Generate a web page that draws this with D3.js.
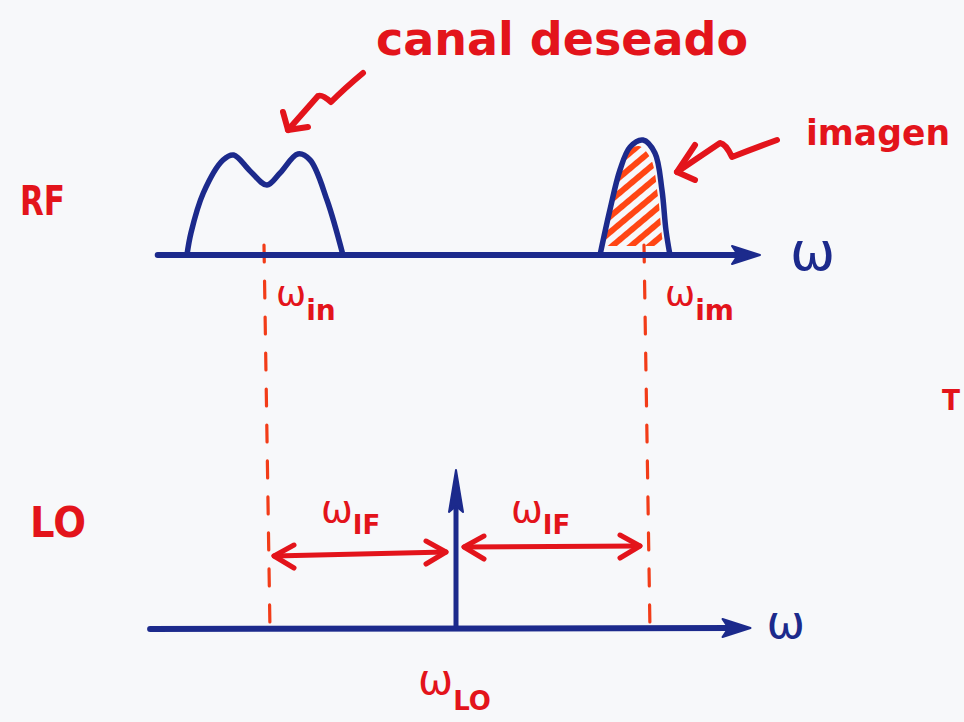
<!DOCTYPE html>
<html><head><meta charset="utf-8">
<script src="https://cdn.jsdelivr.net/npm/d3@7"></script>
<style>body{margin:0;background:#f7f8fa}svg{display:block}</style>
</head><body>
<svg id="c" width="964" height="722"></svg>
<script>
// ---- data ----
const markNames = ["in", "LO", "im"];
const markFreq = [-1, 0, 1];               // ω_in, ω_LO, ω_im  (units of ω_IF)
const desiredFreq = [-1.416,-1.395,-1.330,-1.226,-1.170,-1.084,-0.995,-0.926,-0.832,-0.768,-0.679,-0.595];
const desiredAmp  = [0, 0.22, 0.62, 0.95, 1.0, 0.84, 0.70, 0.82, 1.01, 0.95, 0.55, 0];
const imageFreq = [0.758, 0.81, 0.863, 0.916, 0.984, 1.047, 1.084, 1.105, 1.126];
const imageAmp  = [0, 0.45, 0.85, 1.08, 1.15, 1.02, 0.65, 0.25, 0];
const rfAxisRange = [-1.57, 1.60];
const loAxisRange = [-1.61, 1.55];
const loAmp = 1.0;
const labels = {rf: "RF", lo: "LO", desired: "canal deseado", image: "imagen", omega: "ω", ifSub: "IF", edge: "T"};

// ---- layout ----
const BLUE = "#1c2a8c", RED = "#e3141b", ORANGE = "#f23c18", HATCH = "#ff4614";
const svg = d3.select("#c");
svg.append("rect").attr("width",964).attr("height",722).attr("fill","#f7f8fa");
const x = d3.scaleLinear().domain([-1, 1]).range([266, 646]);
const yRF = d3.scaleLinear().domain([0, 1]).range([255, 155]);
const yLO = d3.scaleLinear().domain([0, 1]).range([629, 470]);
const FONT = "DejaVu Sans";

const defs = svg.append("defs");
const pat = defs.append("pattern").attr("id","hatch").attr("patternUnits","userSpaceOnUse")
  .attr("width",12).attr("height",12).attr("patternTransform","rotate(-40)");
pat.append("line").attr("x1",-2).attr("x2",14).attr("y1",6).attr("y2",6)
  .attr("stroke",HATCH).attr("stroke-width",6);

const line = d3.line().x(d => x(d[0])).y(d => yRF(d[1])).curve(d3.curveCatmullRom.alpha(0.5));
const desiredPts = desiredFreq.map((f,i)=>[f, desiredAmp[i]]);
const imagePts = imageFreq.map((f,i)=>[f, imageAmp[i]]);

defs.append("clipPath").attr("id","imgClip").append("path").attr("d", line(imagePts) + "Z");
defs.append("clipPath").attr("id","imgClip2").append("path")
  .attr("transform","translate(-4,6)").attr("d", line(imagePts) + "Z");

// dashed guides
const guides = svg.append("g");
[markFreq[0], markFreq[2]].forEach(f => {
  guides.append("line").attr("x1", x(f)-2).attr("x2", x(f)+4)
    .attr("y1", yRF(0)-10).attr("y2", yLO(0)+2)
    .attr("stroke", ORANGE).attr("stroke-width", 3.2)
    .attr("stroke-dasharray","17 19").attr("stroke-linecap","round");
});

// hatch
svg.append("g").attr("clip-path","url(#imgClip)")
  .append("g").attr("clip-path","url(#imgClip2)")
  .append("rect").attr("x", x(0.7)).attr("y", yRF(1.3)).attr("width", 80).attr("height", yRF(0.09)-yRF(1.3))
  .attr("fill","url(#hatch)");

// spectra
[desiredPts, imagePts].forEach(p => {
  svg.append("path").attr("d", line(p)).attr("fill","none")
    .attr("stroke", BLUE).attr("stroke-width", 5.5).attr("stroke-linejoin","round").attr("stroke-linecap","round");
});

// axes with arrows
function axisArrow(y, r, yTipOff) {
  const x0 = x(r[0]), x1 = x(r[1]);
  svg.append("line").attr("x1", x0).attr("x2", x1-18).attr("y1", y).attr("y2", y+yTipOff)
    .attr("stroke", BLUE).attr("stroke-width", 6).attr("stroke-linecap","round");
  svg.append("path").attr("d", `M${x1},${y+yTipOff} L${x1-28},${y+yTipOff-9} L${x1-22},${y+yTipOff} L${x1-28},${y+yTipOff+9}Z`)
    .attr("fill", BLUE).attr("stroke", BLUE).attr("stroke-width", 2).attr("stroke-linejoin","round");
}
axisArrow(yRF(0), rfAxisRange, 0);
axisArrow(yLO(0), loAxisRange, -1);

// LO impulse
const xlo = x(markFreq[1]);
svg.append("line").attr("x1", xlo).attr("x2", xlo).attr("y1", yLO(0)).attr("y2", yLO(loAmp)+30)
  .attr("stroke", BLUE).attr("stroke-width", 5);
svg.append("path").attr("d", `M${xlo},${yLO(loAmp)} L${xlo-7},${yLO(loAmp)+42} L${xlo},${yLO(loAmp)+36} L${xlo+7},${yLO(loAmp)+42}Z`)
  .attr("fill", BLUE).attr("stroke", BLUE).attr("stroke-width", 2).attr("stroke-linejoin","round");

// IF double arrows
function dblArrow(xa, xb, ya, yb) {
  const g = svg.append("g").attr("stroke", RED).attr("stroke-width", 5).attr("fill","none")
    .attr("stroke-linecap","round").attr("stroke-linejoin","round");
  g.append("line").attr("x1", xa).attr("x2", xb).attr("y1", ya).attr("y2", yb);
  g.append("path").attr("d", `M${xa+20},${ya-11} L${xa},${ya} L${xa+20},${ya+12}`);
  g.append("path").attr("d", `M${xb-20},${yb-11} L${xb},${yb} L${xb-20},${yb+12}`);
}
dblArrow(x(markFreq[0])+8, x(markFreq[1])-10, 556, 552);
dblArrow(x(markFreq[1])+8, x(markFreq[2])-6, 547, 546);

// text helpers
function label(xp, yp, main, sub, size, subSize, color, subDy) {
  const t = svg.append("text").attr("x", xp).attr("y", yp).attr("fill", color)
    .attr("font-family", FONT).attr("font-size", size);
  t.append("tspan").text(main);
  if (sub) t.append("tspan").attr("font-size", subSize).attr("dy", subDy).attr("font-weight","bold").text(sub);
  return t;
}
label(x(markFreq[0])+10, 306, labels.omega, markNames[0], 36, 28, RED, 14);
label(x(markFreq[2])+19, 306, labels.omega, markNames[2], 36, 28, RED, 14);
label(x(-0.5)-40, 522, labels.omega, labels.ifSub, 38, 26, RED, 12);
label(x(0.5)-40, 522, labels.omega, labels.ifSub, 38, 26, RED, 12);
label(xlo-38, 694, labels.omega, markNames[1], 42, 26, RED, 16);

// ω axis labels
label(x(rfAxisRange[1])+30, 270, labels.omega, null, 54, 0, BLUE, 0);
label(x(loAxisRange[1])+16, 638, labels.omega, null, 46, 0, BLUE, 0);

// side labels
function txt(xp, yp, s, size, len) {
  return svg.append("text").attr("x",xp).attr("y",yp).attr("fill",RED).attr("font-family",FONT)
    .attr("font-size",size).attr("font-weight","bold").attr("textLength",len).attr("lengthAdjust","spacingAndGlyphs").text(s);
}
txt(20, 215, labels.rf, 40, 45);
txt(30, 537, labels.lo, 42, 56);
txt(376, 55, labels.desired, 46, 372);
txt(806, 145, labels.image, 36, 144);
txt(942, 410, labels.edge, 28, 18);

// zig-zag pointer arrows
const zz = svg.append("g").attr("stroke", RED).attr("stroke-width", 6).attr("fill","none")
  .attr("stroke-linecap","round").attr("stroke-linejoin","round");
zz.append("path").attr("d","M363,73 Q345,88 331,102 Q322,94 318,96 L288,130");
zz.append("path").attr("d","M283,112 L288,130 L308,127");
zz.append("path").attr("d","M777,140 Q755,148 732,157 Q726,144 720,143 L677,172");
zz.append("path").attr("d","M695,145 L677,172 L695,180");
</script>
</body></html>
